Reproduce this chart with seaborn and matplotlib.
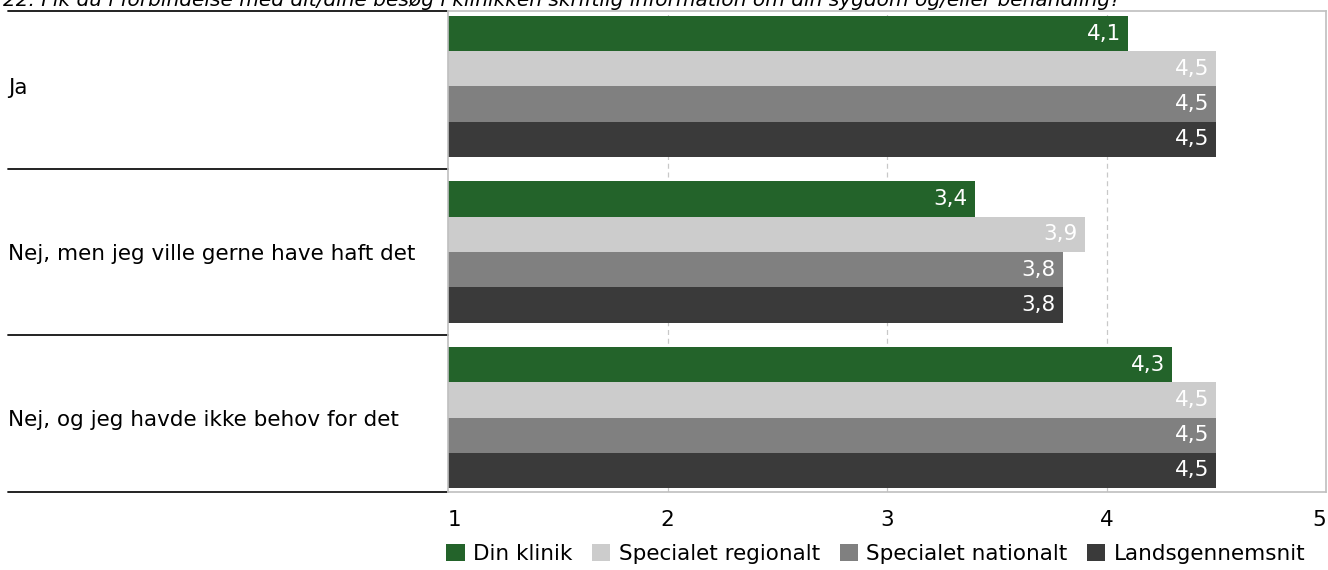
import matplotlib
matplotlib.use("Agg")
import matplotlib.pyplot as plt
import matplotlib.transforms as mtransforms
import seaborn as sns
import pandas as pd

title = "22. Fik du i forbindelse med dit/dine besøg i klinikken skriftlig information om din sygdom og/eller behandling?"
categories = ["Ja", "Nej, men jeg ville gerne have haft det", "Nej, og jeg havde ikke behov for det"]
series = ["Din klinik", "Specialet regionalt", "Specialet nationalt", "Landsgennemsnit"]
din_klinik = [4.1, 3.4, 4.3]
spec_regional = [4.5, 3.9, 4.5]
spec_national = [4.5, 3.8, 4.5]
landsgennemsnit = [4.5, 3.8, 4.5]
colors = ["#23632A", "#CCCCCC", "#808080", "#3A3A3A"]
xticks = [1, 2, 3, 4, 5]

rows = []
for s, vals in zip(series, [din_klinik, spec_regional, spec_national, landsgennemsnit]):
    for c, v in zip(categories, vals):
        rows.append({"Kategori": c, "Serie": s, "Værdi": v})
df = pd.DataFrame(rows)

sns.set_theme(style="white")
plt.rcParams["font.family"] = ["DejaVu Sans"]
plt.rcParams["text.color"] = "black"
FS = 15.5

fig = plt.figure(figsize=(13.28, 5.70), dpi=100)
ax = fig.add_axes([448 / 1328, 1 - 492 / 570, (1326 - 448) / 1328, (492 - 11) / 570])

sns.barplot(data=df, y="Kategori", x="Værdi", hue="Serie", order=categories,
            hue_order=series, palette=colors, orient="h", width=0.852,
            saturation=1, ax=ax, legend=True, errorbar=None, linewidth=0)

ax.set_xlim(1, 5)
y_top, y_bot = -0.456, 2.45
ax.set_ylim(y_bot, y_top)
ax.set_xlabel("")
ax.set_ylabel("")

# bar labels
for cont in ax.containers:
    labels = [f"{v:.1f}".replace(".", ",") for v in cont.datavalues]
    ax.bar_label(cont, labels=labels, padding=-5, color="white", fontsize=FS,
                 label_type="edge")
for t in ax.texts:
    t.set_ha("right")

# grid
for xv in xticks[1:-1]:
    ax.axvline(xv, color="#C8C8C8", linestyle=(0, (4, 3)), linewidth=0.9, zorder=0)
ax.set_axisbelow(True)

for sp in ax.spines.values():
    sp.set_color("#BFBFBF")
    sp.set_linewidth(1.2)

ax.set_xticks(xticks)
ax.set_xticklabels([str(x) for x in xticks], fontsize=FS, color="black")
ax.tick_params(axis="x", length=0, pad=13)
xl = ax.get_xticklabels()
xl[0].set_ha("left")
xl[-1].set_ha("right")

ax.set_yticks(range(len(categories)))
ax.set_yticklabels(categories, fontsize=FS, ha="left", color="black")
ax.tick_params(axis="y", length=0, pad=440 * 0.72)

# separator lines on the left
trans = mtransforms.blended_transform_factory(ax.transAxes, ax.transData)
x0 = -(448 - 8) / (1326 - 448)
for yv in [y_top, 0.5, 1.5, y_bot]:
    ax.plot([x0, 0], [yv, yv], color="#111111", linewidth=1.3, transform=trans, clip_on=False)

# legend
h, l = ax.get_legend_handles_labels()
ax.get_legend().remove()
fig.legend(h, l, loc="center", bbox_to_anchor=(876 / 1328, 1 - 554 / 570), ncol=4,
           frameon=False, fontsize=FS, handlelength=0.85, handleheight=0.85,
           handletextpad=0.4, columnspacing=0.9, borderaxespad=0)

fig.text(0.002, 1 - 6 / 570, title, fontsize=14.5, style="italic", va="baseline", ha="left")

fig.savefig("out.png", dpi=100)
